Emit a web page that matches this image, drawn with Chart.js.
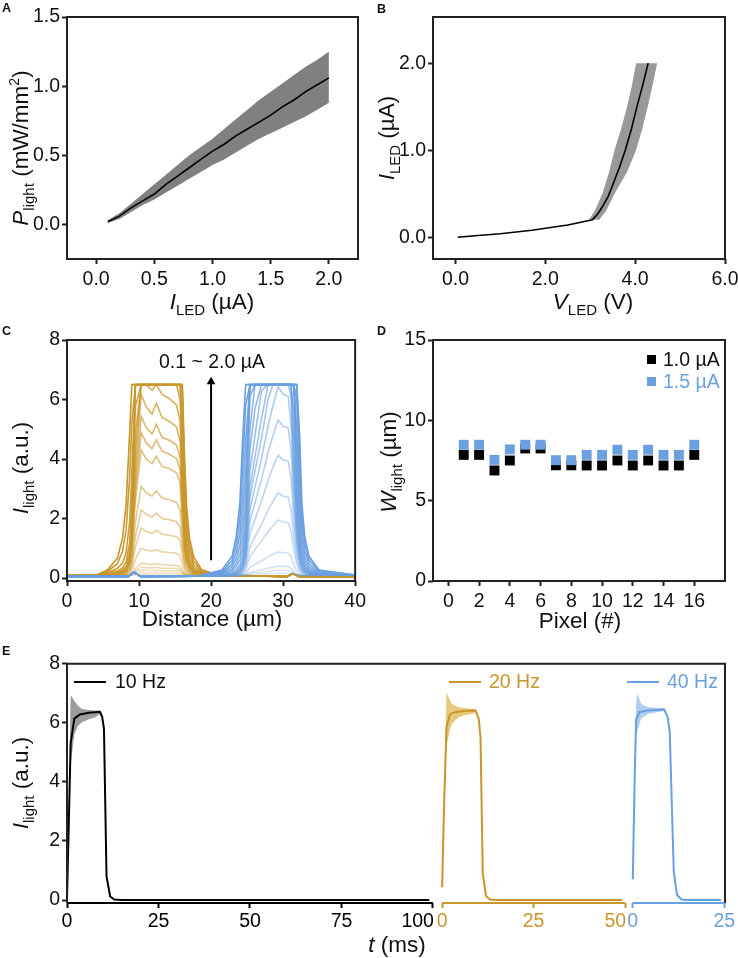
<!DOCTYPE html>
<html>
<head>
<meta charset="utf-8">
<script src="https://cdn.jsdelivr.net/npm/chart.js@4"></script>
<style>
  body { margin: 0; background: #fff; }
  #fig { position: relative; width: 738px; height: 958px; overflow: hidden;
         font-family: "Liberation Sans", Arial, sans-serif; color: #111; }
  canvas { position: absolute; }
  .t { position: absolute; white-space: nowrap; font-size: 22.5px; line-height: 1; transform: translate(-50%, -50%); }
  .rot { transform: translate(-50%, -50%) rotate(-90deg); }
  .sb { font-size: 15px; position: relative; top: 6px; }
  .sp { font-size: 14px; position: relative; top: -9px; }
  .lt { position: absolute; font-weight: bold; font-size: 12.5px; line-height: 1; }
  .lg { position: absolute; font-size: 19.5px; line-height: 1; transform: translateY(-50%); white-space: nowrap; }
  .sq { position: absolute; width: 9px; height: 9px; }
  .ln { position: absolute; height: 2px; }
</style>
</head>
<body>
<div id="fig">
  <canvas id="cA" width="370" height="330" style="left:0;top:0"></canvas>
  <canvas id="cB" width="380" height="330" style="left:370px;top:0"></canvas>
  <canvas id="cC" width="370" height="325" style="left:0;top:325px"></canvas>
  <canvas id="cD" width="380" height="325" style="left:370px;top:325px"></canvas>
  <canvas id="cE" width="738" height="308" style="left:0;top:650px"></canvas>

  <div class="lt" style="left:2px;top:2px">A</div>
  <div class="lt" style="left:377px;top:3px">B</div>
  <div class="lt" style="left:2px;top:325px">C</div>
  <div class="lt" style="left:377px;top:325px">D</div>
  <div class="lt" style="left:2px;top:645px">E</div>

  <div class="t rot" style="left:21px;top:148px"><i>P</i><span class="sb">light</span> (mW/mm<span class="sp">2</span>)</div>
  <div class="t" style="left:212px;top:302px"><i>I</i><span class="sb">LED</span> (µA)</div>
  <div class="t rot" style="left:387px;top:138px"><i>I</i><span class="sb">LED</span> (µA)</div>
  <div class="t" style="left:593px;top:302px"><i>V</i><span class="sb">LED</span> (V)</div>
  <div class="t rot" style="left:21px;top:468px"><i>I</i><span class="sb">light</span> (a.u.)</div>
  <div class="t" style="left:212px;top:619px">Distance (µm)</div>
  <div class="t rot" style="left:389px;top:462px"><i>W</i><span class="sb">light</span> (µm)</div>
  <div class="t" style="left:580px;top:621px">Pixel (#)</div>
  <div class="t rot" style="left:21px;top:783px"><i>I</i><span class="sb">light</span> (a.u.)</div>
  <div class="t" style="left:397px;top:945px"><i>t</i> (ms)</div>

  <div class="t" style="left:212px;top:362px;font-size:19.5px">0.1 ~ 2.0 µA</div>

  <div class="sq" style="left:647px;top:355px;background:#000"></div>
  <div class="lg" style="left:663px;top:360px">1.0 µA</div>
  <div class="sq" style="left:647px;top:377px;background:#6a9fe0"></div>
  <div class="lg" style="left:663px;top:382px;color:#6a9fe0">1.5 µA</div>

  <div class="ln" style="left:74px;top:681px;width:32px;background:#000"></div>
  <div class="lg" style="left:115px;top:682px">10 Hz</div>
  <div class="ln" style="left:449px;top:681px;width:32px;background:#c8962a"></div>
  <div class="lg" style="left:489px;top:682px;color:#c8962a">20 Hz</div>
  <div class="ln" style="left:627px;top:681px;width:32px;background:#6a9fe0"></div>
  <div class="lg" style="left:667px;top:682px;color:#6a9fe0">40 Hz</div>
</div>

<script>
// ---- A: light power vs LED current
const aCurrent = [0.1,0.2,0.3,0.4,0.5,0.6,0.7,0.8,0.9,1.0,1.1,1.2,1.3,1.4,1.5,1.6,1.7,1.8,1.9,2.0];
const aMean  = [0.02,0.06,0.12,0.17,0.22,0.29,0.35,0.41,0.47,0.53,0.58,0.64,0.69,0.74,0.79,0.85,0.90,0.96,1.01,1.06];
const aUpper = [0.03,0.08,0.15,0.22,0.29,0.36,0.43,0.50,0.56,0.62,0.69,0.76,0.83,0.90,0.96,1.02,1.08,1.14,1.19,1.25];
const aLower = [0.01,0.04,0.09,0.14,0.18,0.23,0.28,0.33,0.38,0.43,0.47,0.52,0.57,0.62,0.66,0.70,0.74,0.78,0.83,0.88];

// ---- B: I-V curve
const bVolt = [0.05,0.5,1.0,1.7,2.5,3.05,3.17,3.27,3.4,3.5,3.65,3.78,3.92,4.04,4.17,4.29];
const bCurr = [0,0.02,0.04,0.08,0.14,0.2,0.27,0.35,0.47,0.6,0.8,1.0,1.25,1.5,1.75,2.0];
const bBandV = [2.97,3.1,3.27,3.42,3.54,3.69,3.82,3.93,4.02,4.49,4.39,4.28,4.16,4.02,3.82,3.54,3.35,3.2,2.97];
const bBandI = [0.2,0.3,0.5,0.75,1.0,1.25,1.5,1.75,2.0,2.0,1.75,1.5,1.25,1.0,0.75,0.5,0.3,0.2,0.2];

// ---- C: intensity profiles, 0.1 ~ 2.0 uA
const cCurrents = [0.1,0.2,0.3,0.4,0.5,0.6,0.7,0.8,0.9,1.0,1.1,1.2,1.3,1.4,1.5,1.6,1.7,1.8,1.9,2.0];
const cGoldX = [0,4,5.6,7.0,7.7,8.2,8.7,9.0,9.5,10.3,11.0,11.8,12.4,13.2,14.2,15.2,15.7,16.0,16.3,16.6,17.0,17.6,18.7,21,30.6,31.3,32.2,40];
const cGold = [
  [.08,.08,.08,.08,.08,.08,.08,.09,.10,.12,.12,.12,.12,.11,.11,.11,.11,.10,.09,.08,.08,.08,.08,.08,.05,.15,.05,.05],
  [.08,.08,.08,.08,.08,.08,.09,.10,.14,.18,.17,.17,.18,.17,.17,.16,.15,.13,.10,.09,.08,.08,.08,.08,.05,.15,.05,.05],
  [.08,.08,.08,.08,.08,.09,.10,.12,.19,.27,.26,.25,.26,.25,.24,.24,.22,.17,.12,.10,.09,.08,.08,.08,.05,.15,.05,.05],
  [.08,.08,.08,.08,.08,.09,.10,.14,.25,.37,.35,.34,.36,.33,.33,.32,.29,.21,.14,.11,.09,.08,.08,.08,.05,.15,.05,.05],
  [.08,.08,.08,.08,.09,.09,.11,.16,.33,.50,.47,.45,.48,.45,.44,.42,.39,.27,.16,.12,.10,.09,.08,.08,.05,.15,.05,.05],
  [.08,.08,.08,.09,.10,.11,.15,.26,.63,1.0,.94,.90,.95,.88,.86,.83,.76,.49,.26,.17,.13,.10,.09,.08,.05,.15,.05,.05],
  [.08,.08,.09,.10,.11,.13,.21,.40,1.04,1.68,1.57,1.50,1.60,1.47,1.44,1.39,1.26,.80,.40,.24,.16,.11,.10,.08,.05,.15,.05,.05],
  [.08,.08,.09,.11,.12,.15,.26,.52,1.41,2.29,2.14,2.05,2.18,2.0,1.96,1.89,1.72,1.07,.52,.30,.19,.12,.10,.08,.05,.15,.05,.05],
  [.08,.08,.10,.12,.14,.17,.32,.68,1.88,3.08,2.87,2.75,2.93,2.69,2.63,2.54,2.30,1.43,.68,.38,.23,.14,.11,.08,.05,.15,.05,.05],
  [.08,.08,.10,.13,.16,.21,.42,.92,2.61,4.30,4.0,3.84,4.09,3.75,3.67,3.54,3.20,1.98,.92,.50,.29,.16,.12,.08,.05,.15,.05,.05],
  [.08,.08,.10,.14,.18,.22,.46,1.04,2.96,4.88,4.54,4.35,4.64,4.26,4.16,4.02,3.63,2.24,1.04,.56,.32,.18,.13,.08,.05,.15,.05,.05],
  [.08,.08,.11,.14,.19,.24,.51,1.15,3.29,5.43,5.06,4.84,5.16,4.73,4.63,4.47,4.04,2.49,1.15,.62,.35,.19,.13,.08,.05,.15,.05,.05],
  [.08,.08,.11,.15,.20,.26,.57,1.30,3.74,6.18,5.75,5.51,5.87,5.39,5.27,5.08,4.59,2.83,1.30,.69,.39,.20,.14,.08,.05,.15,.05,.05],
  [.08,.08,.12,.16,.22,.30,.64,1.48,4.28,6.5,6.5,6.31,6.5,6.17,6.03,5.82,5.26,3.23,1.48,.78,.43,.22,.15,.08,.05,.15,.05,.05],
  [.08,.08,.12,.18,.24,.34,.72,1.68,4.88,6.5,6.5,6.5,6.5,6.5,6.5,6.5,6.0,3.68,1.68,.88,.48,.24,.16,.08,.05,.15,.05,.05],
  [.08,.08,.13,.20,.28,.40,.90,2.0,5.78,6.5,6.5,6.5,6.5,6.5,6.5,6.5,6.5,4.35,1.98,1.03,.56,.27,.18,.09,.05,.15,.05,.05],
  [.08,.08,.15,.24,.34,.55,1.2,2.6,6.5,6.5,6.5,6.5,6.5,6.5,6.5,6.5,6.5,5.25,2.4,1.25,.70,.33,.20,.09,.05,.15,.05,.05],
  [.08,.08,.18,.33,.50,.85,1.9,3.5,6.5,6.5,6.5,6.5,6.5,6.5,6.5,6.5,6.5,6.3,3.0,1.55,.90,.42,.22,.09,.05,.15,.05,.05],
  [.08,.08,.22,.48,.90,1.6,3.4,5.2,6.5,6.5,6.5,6.5,6.5,6.5,6.5,6.5,6.5,6.5,3.6,1.95,1.1,.55,.25,.10,.05,.15,.05,.05],
  [.08,.09,.27,.66,1.34,2.46,4.9,6.5,6.5,6.5,6.5,6.5,6.5,6.5,6.5,6.5,6.5,6.5,4.2,2.4,1.35,.70,.28,.10,.05,.15,.05,.05]
];
const cBlueX = [0,8.5,9.3,10.2,18,21.5,22.9,23.5,24.0,24.4,24.8,25.4,26.1,27.0,27.9,28.6,29.3,30.0,30.7,31.1,31.5,31.9,32.3,32.6,33.0,33.6,35.0,40];
const cBlue = [
  [.05,.05,.2,.05,.06,.07,.08,.08,.08,.08,.09,.11,.12,.13,.14,.15,.16,.16,.16,.14,.12,.10,.09,.08,.08,.09,.1,.1],
  [.05,.05,.2,.05,.06,.07,.08,.08,.08,.09,.10,.14,.16,.19,.22,.24,.26,.25,.25,.22,.16,.12,.09,.09,.08,.09,.1,.1],
  [.05,.05,.2,.05,.06,.07,.08,.08,.09,.09,.11,.19,.23,.28,.33,.37,.40,.39,.38,.34,.22,.14,.11,.09,.09,.09,.1,.1],
  [.05,.05,.2,.05,.06,.07,.08,.09,.10,.11,.16,.36,.46,.58,.71,.80,.88,.85,.84,.72,.44,.24,.14,.11,.10,.09,.1,.1],
  [.05,.05,.2,.05,.06,.07,.09,.10,.12,.15,.27,.73,.96,1.24,1.56,1.76,1.95,1.88,1.86,1.58,.92,.45,.23,.15,.12,.10,.1,.1],
  [.05,.05,.2,.05,.06,.07,.09,.11,.14,.19,.36,1.05,1.39,1.80,2.28,2.58,2.86,2.75,2.72,2.30,1.33,.64,.30,.19,.14,.12,.1,.1],
  [.05,.05,.2,.05,.06,.07,.10,.12,.16,.24,.49,1.50,1.98,2.59,3.28,3.73,4.13,3.97,3.93,3.32,1.90,.89,.40,.24,.16,.13,.1,.1],
  [.05,.05,.2,.05,.06,.07,.11,.13,.18,.29,.60,1.91,2.54,3.32,4.21,4.79,5.31,5.10,5.05,4.26,2.43,1.13,.50,.29,.18,.14,.1,.1],
  [.05,.05,.2,.05,.06,.07,.11,.14,.21,.33,.72,2.30,3.06,4.02,5.10,5.80,6.43,6.18,6.11,5.16,2.94,1.35,.59,.33,.21,.15,.1,.1],
  [.05,.05,.2,.05,.06,.07,.12,.16,.23,.38,.83,2.7,3.6,4.7,6.0,6.5,6.5,6.5,6.5,6.1,3.45,1.58,.68,.38,.23,.16,.1,.1],
  [.05,.05,.2,.05,.06,.08,.13,.18,.26,.42,.93,3.05,4.08,5.35,6.5,6.5,6.5,6.5,6.5,6.5,3.9,1.78,.76,.42,.25,.17,.1,.1],
  [.05,.05,.2,.05,.06,.08,.14,.2,.3,.5,1.1,3.6,4.8,6.3,6.5,6.5,6.5,6.5,6.5,6.5,4.6,2.1,.9,.5,.3,.18,.1,.1],
  [.05,.05,.2,.05,.06,.09,.16,.24,.36,.6,1.3,4.3,5.7,6.5,6.5,6.5,6.5,6.5,6.5,6.5,5.5,2.5,1.05,.58,.33,.2,.11,.1],
  [.05,.05,.2,.05,.06,.1,.2,.3,.45,.75,1.6,5.0,6.5,6.5,6.5,6.5,6.5,6.5,6.5,6.5,6.4,2.9,1.2,.65,.38,.22,.12,.1],
  [.05,.05,.2,.05,.06,.12,.25,.4,.6,1.0,2.0,6.1,6.5,6.5,6.5,6.5,6.5,6.5,6.5,6.5,6.5,3.5,1.5,.8,.45,.26,.13,.1],
  [.05,.05,.2,.05,.06,.14,.3,.5,.8,1.4,2.6,6.5,6.5,6.5,6.5,6.5,6.5,6.5,6.5,6.5,6.5,4.2,1.9,1.0,.55,.3,.15,.1],
  [.05,.05,.2,.05,.06,.16,.38,.65,1.1,2.0,3.5,6.5,6.5,6.5,6.5,6.5,6.5,6.5,6.5,6.5,6.5,5.0,2.4,1.3,.7,.38,.17,.1],
  [.05,.05,.2,.05,.06,.19,.46,.85,1.5,2.8,4.6,6.5,6.5,6.5,6.5,6.5,6.5,6.5,6.5,6.5,6.5,6.0,3.1,1.7,.9,.48,.2,.1],
  [.05,.05,.2,.05,.06,.23,.58,1.1,2.0,3.8,5.8,6.5,6.5,6.5,6.5,6.5,6.5,6.5,6.5,6.5,6.5,6.5,3.9,2.1,1.15,.6,.24,.1],
  [.05,.05,.2,.05,.06,.27,.72,1.4,2.52,4.76,6.5,6.5,6.5,6.5,6.5,6.5,6.5,6.5,6.5,6.5,6.5,6.5,4.76,2.52,1.4,.72,.27,.1]
];
const cArrowX = [20, 20];
const cArrowY = [0.6, 6.6];

// ---- D: beam width per pixel
const dPixel = [1,2,3,4,5,6,7,8,9,10,11,12,13,14,15,16];
const dW10 = [7.85,7.85,6.88,7.5,8.25,8.25,7.2,7.2,7.19,7.19,7.5,7.19,7.5,7.19,7.19,7.85];
const dW15 = [8.48,8.48,7.54,8.19,8.48,8.48,7.52,7.52,7.85,7.85,8.17,7.85,8.17,7.85,7.85,8.48];

// ---- E: pulse responses (t in ms)
const t10  = [0,0.3,1.0,2.0,3.5,6,9,9.6,10.1,10.8,11.8,12.9,15,99];
const y10  = [0.02,1.6,5.3,6.14,6.28,6.34,6.37,6.2,5.8,0.8,0.12,0.02,0,0];
const tb10 = [0.3,1.0,1.5,2.0,3.0,4.1,6,7.7,9,9.6,10.1,10.8];
const up10 = [1.8,6.93,6.85,6.75,6.58,6.47,6.43,6.42,6.42,6.27,5.9,0.85];
const lo10 = [1.4,4.6,5.1,5.6,5.9,6.02,6.12,6.19,6.3,6.13,5.7,0.75];
const t20  = [0,0.6,1.2,2.2,3.6,6,9.1,10.0,10.5,11.1,12.0,13.1,15,49.2];
const y20  = [0.43,3.5,5.86,6.3,6.36,6.4,6.42,6.14,5.5,0.9,0.14,0.02,0,0];
const tb20 = [0.6,1.2,2.2,2.7,4.5,6,8.2,9.1,10.0,10.5];
const up20 = [3.7,7.04,6.75,6.64,6.53,6.5,6.47,6.46,6.2,5.6];
const lo20 = [3.3,5.2,5.8,5.97,6.19,6.25,6.3,6.36,6.08,5.4];
const t40  = [0,0.5,0.9,1.8,4,8.6,9.5,10.1,11.2,12.1,13.3,15,24.1];
const y40  = [0.7,4.0,6.1,6.36,6.42,6.45,6.2,5.7,0.96,0.17,0.02,0,0];
const tb40 = [0.5,0.9,1.2,2.3,4.1,7.7,8.6,9.5,10.1];
const up40 = [4.2,6.6,6.98,6.64,6.53,6.5,6.5,6.25,5.75];
const lo40 = [3.8,5.5,5.7,6.15,6.3,6.38,6.4,6.15,5.65];
const eTicks10 = [0,25,50,75,100];
const eTicks20 = [0,25,50];
const eTicks40 = [0,25];
const E_OFF = [0, 102.5, 154.6];   // where each broken-axis segment starts
const E_COL = ['#000', '#c8962a', '#6a9fe0'];

const GOLD = [200,150,42], BLUE = [106,159,224];

Chart.defaults.font.family = '"Liberation Sans", Arial, sans-serif';
Chart.defaults.font.size = 19.5;
Chart.defaults.color = '#111';
Chart.defaults.animation = false;
Chart.defaults.plugins.legend.display = false;
Chart.defaults.plugins.tooltip.enabled = false;
Chart.defaults.elements.point.radius = 0;
Chart.defaults.elements.line.tension = 0;

const pts = (xs, ys) => xs.map((x, i) => ({x, y: ys[i]}));

function axis(min, max, ticks, fmt, size, horiz) {
  return {
    type: 'linear', min, max,
    border: {display: false},
    grid: {drawOnChartArea: false, tickLength: 5, tickWidth: 2, tickColor: '#222'},
    ticks: {padding: horiz ? 4 : 2, autoSkip: false, maxRotation: 0, callback: fmt},
    afterBuildTicks: s => { s.ticks = ticks.map(v => ({value: v})); },
    afterFit: s => { if (horiz) s.height = size; else s.width = size; }
  };
}

const frame = {
  id: 'frame',
  afterDraw(chart) {
    const {ctx, chartArea: a} = chart;
    ctx.save();
    ctx.strokeStyle = '#222';
    ctx.lineWidth = 2;
    ctx.strokeRect(a.left, a.top, a.right - a.left, a.bottom - a.top);
    ctx.restore();
  }
};

const f1 = v => v.toFixed(1);
const f0 = v => String(v);

// A
new Chart(document.getElementById('cA'), {
  type: 'line',
  data: {datasets: [
    {data: pts(aCurrent, aUpper), borderWidth: 0, fill: '+1', backgroundColor: '#808080', order: 3},
    {data: pts(aCurrent, aLower), borderWidth: 0, fill: false, order: 3},
    {data: pts(aCurrent, aMean), borderColor: '#000', borderWidth: 1.6, fill: false, order: 0}
  ]},
  options: {
    responsive: false,
    layout: {padding: {left: 0, top: 17, right: 12, bottom: 0}},
    scales: {
      x: axis(-0.25, 2.25, [0, 0.5, 1, 1.5, 2], f1, 71, true),
      y: axis(-0.25, 1.5, [0, 0.5, 1, 1.5], f1, 67, false)
    }
  },
  plugins: [frame]
});

// B
new Chart(document.getElementById('cB'), {
  type: 'line',
  data: {datasets: [
    {data: pts(bVolt, bCurr), borderColor: '#000', borderWidth: 1.6, fill: false, order: 0},
    {data: pts(bBandV, bBandI), borderWidth: 0, fill: 'shape', backgroundColor: '#999', order: 1}
  ]},
  options: {
    responsive: false,
    layout: {padding: {left: 0, top: 17, right: 25, bottom: 0}},
    scales: {
      x: axis(-0.5, 6, [0, 2, 4, 6], f1, 71, true),
      y: axis(-0.25, 2.53, [0, 1, 2], f1, 63, false)
    }
  },
  plugins: [frame]
});

// C
const rgba = (c, a) => `rgba(${c[0]},${c[1]},${c[2]},${a})`;
const cSets = [];
cCurrents.forEach((cur, i) => {
  const a = 0.22 + 0.78 * i / (cCurrents.length - 1);
  cSets.push({data: pts(cGoldX, cGold[i]), borderColor: rgba(GOLD, a), borderWidth: 1.6, fill: false, order: 100 - i});
  cSets.push({data: pts(cBlueX, cBlue[i]), borderColor: rgba(BLUE, a), borderWidth: 1.6, fill: false, order: 60 - i});
});
cSets.push({data: pts(cArrowX, cArrowY), borderColor: '#000', borderWidth: 2, fill: false, order: 0,
  pointStyle: 'triangle', pointRadius: [0, 5], pointBackgroundColor: '#000', pointBorderWidth: 0});
new Chart(document.getElementById('cC'), {
  type: 'line',
  data: {datasets: cSets},
  options: {
    responsive: false,
    layout: {padding: {left: 0, top: 15, right: 12, bottom: 0}},
    scales: {
      x: axis(0, 40, [0, 10, 20, 30, 40], f0, 69, true),
      y: axis(-0.1, 8, [0, 2, 4, 6, 8], f0, 67, false)
    }
  },
  plugins: [frame]
});

// D
new Chart(document.getElementById('cD'), {
  type: 'scatter',
  data: {datasets: [
    {data: pts(dPixel, dW15), pointStyle: 'rect', pointRadius: 7, backgroundColor: '#6a9fe0', borderWidth: 0, order: 1},
    {data: pts(dPixel, dW10), pointStyle: 'rect', pointRadius: 7, backgroundColor: '#000', borderWidth: 0, order: 2}
  ]},
  options: {
    responsive: false,
    layout: {padding: {left: 0, top: 15, right: 25, bottom: 0}},
    scales: {
      x: axis(-1, 18, [0, 2, 4, 6, 8, 10, 12, 14, 16], f0, 69, true),
      y: axis(0, 15, [0, 5, 10, 15], f0, 63, false)
    }
  },
  plugins: [frame]
});

// E: one linear x axis split into three segments
const eSegTicks = [eTicks10, eTicks20, eTicks40];
const eTickVals = [], eTickCol = [], eTickLab = [];
eSegTicks.forEach((ts, k) => ts.forEach((v, j) => {
  eTickVals.push(v + E_OFF[k]);
  eTickCol.push(E_COL[k]);
  eTickLab.push({text: String(v), color: E_COL[k], align: (j === ts.length - 1 && k < 2) ? 'right' : 'center'});
}));
const brokenAxis = {
  id: 'brokenAxis',
  afterDraw(chart) {
    const {ctx, chartArea: a, scales: {x}} = chart;
    ctx.save();
    ctx.lineWidth = 2;
    ctx.strokeStyle = '#222';
    ctx.beginPath();
    ctx.moveTo(a.left, a.bottom); ctx.lineTo(a.left, a.top);
    ctx.lineTo(a.right, a.top); ctx.lineTo(a.right, a.bottom);
    ctx.stroke();
    eSegTicks.forEach((ts, k) => {
      ctx.strokeStyle = E_COL[k];
      ctx.beginPath();
      ctx.moveTo(k === 0 ? a.left : x.getPixelForValue(E_OFF[k]), a.bottom);
      ctx.lineTo(x.getPixelForValue(E_OFF[k] + ts[ts.length - 1]), a.bottom);
      ctx.stroke();
    });
    ctx.font = '19.5px "Liberation Sans", Arial, sans-serif';
    ctx.textBaseline = 'top';
    eTickLab.forEach((l, i) => {
      let px = x.getPixelForValue(eTickVals[i]);
      ctx.fillStyle = l.color;
      ctx.textAlign = l.align;
      if (l.align === 'right') px += 1;
      ctx.fillText(l.text, px, a.bottom + 9);
    });
    ctx.restore();
  }
};
const sh = (ts, k) => ts.map(t => t + E_OFF[k]);
new Chart(document.getElementById('cE'), {
  type: 'line',
  data: {datasets: [
    {data: pts(sh(tb10, 0), up10), borderWidth: 0, fill: '+1', backgroundColor: '#9c9c9c', order: 5},
    {data: pts(sh(tb10, 0), lo10), borderWidth: 0, fill: false, order: 5},
    {data: pts(sh(t10, 0), y10), borderColor: '#000', borderWidth: 2, fill: false, order: 0},
    {data: pts(sh(tb20, 1), up20), borderWidth: 0, fill: '+1', backgroundColor: 'rgba(222,186,80,0.75)', order: 5},
    {data: pts(sh(tb20, 1), lo20), borderWidth: 0, fill: false, order: 5},
    {data: pts(sh(t20, 1), y20), borderColor: '#c8962a', borderWidth: 2, fill: false, order: 0},
    {data: pts(sh(tb40, 2), up40), borderWidth: 0, fill: '+1', backgroundColor: 'rgba(140,184,236,0.7)', order: 5},
    {data: pts(sh(tb40, 2), lo40), borderWidth: 0, fill: false, order: 5},
    {data: pts(sh(t40, 2), y40), borderColor: '#6a9fe0', borderWidth: 2, fill: false, order: 0}
  ]},
  options: {
    responsive: false,
    layout: {padding: {left: 0, top: 13, right: 13, bottom: 0}},
    scales: {
      x: {
        type: 'linear', min: 0, max: 179.8,
        border: {display: false},
        grid: {drawOnChartArea: false, tickLength: 5, tickWidth: 2, tickColor: c => eTickCol[c.index] || '#222'},
        ticks: {display: false},
        afterBuildTicks: s => { s.ticks = eTickVals.map(v => ({value: v})); },
        afterFit: s => { s.height = 55; }
      },
      y: axis(-0.1, 8, [0, 2, 4, 6, 8], f0, 67, false)
    }
  },
  plugins: [brokenAxis]
});
</script>
</body>
</html>
